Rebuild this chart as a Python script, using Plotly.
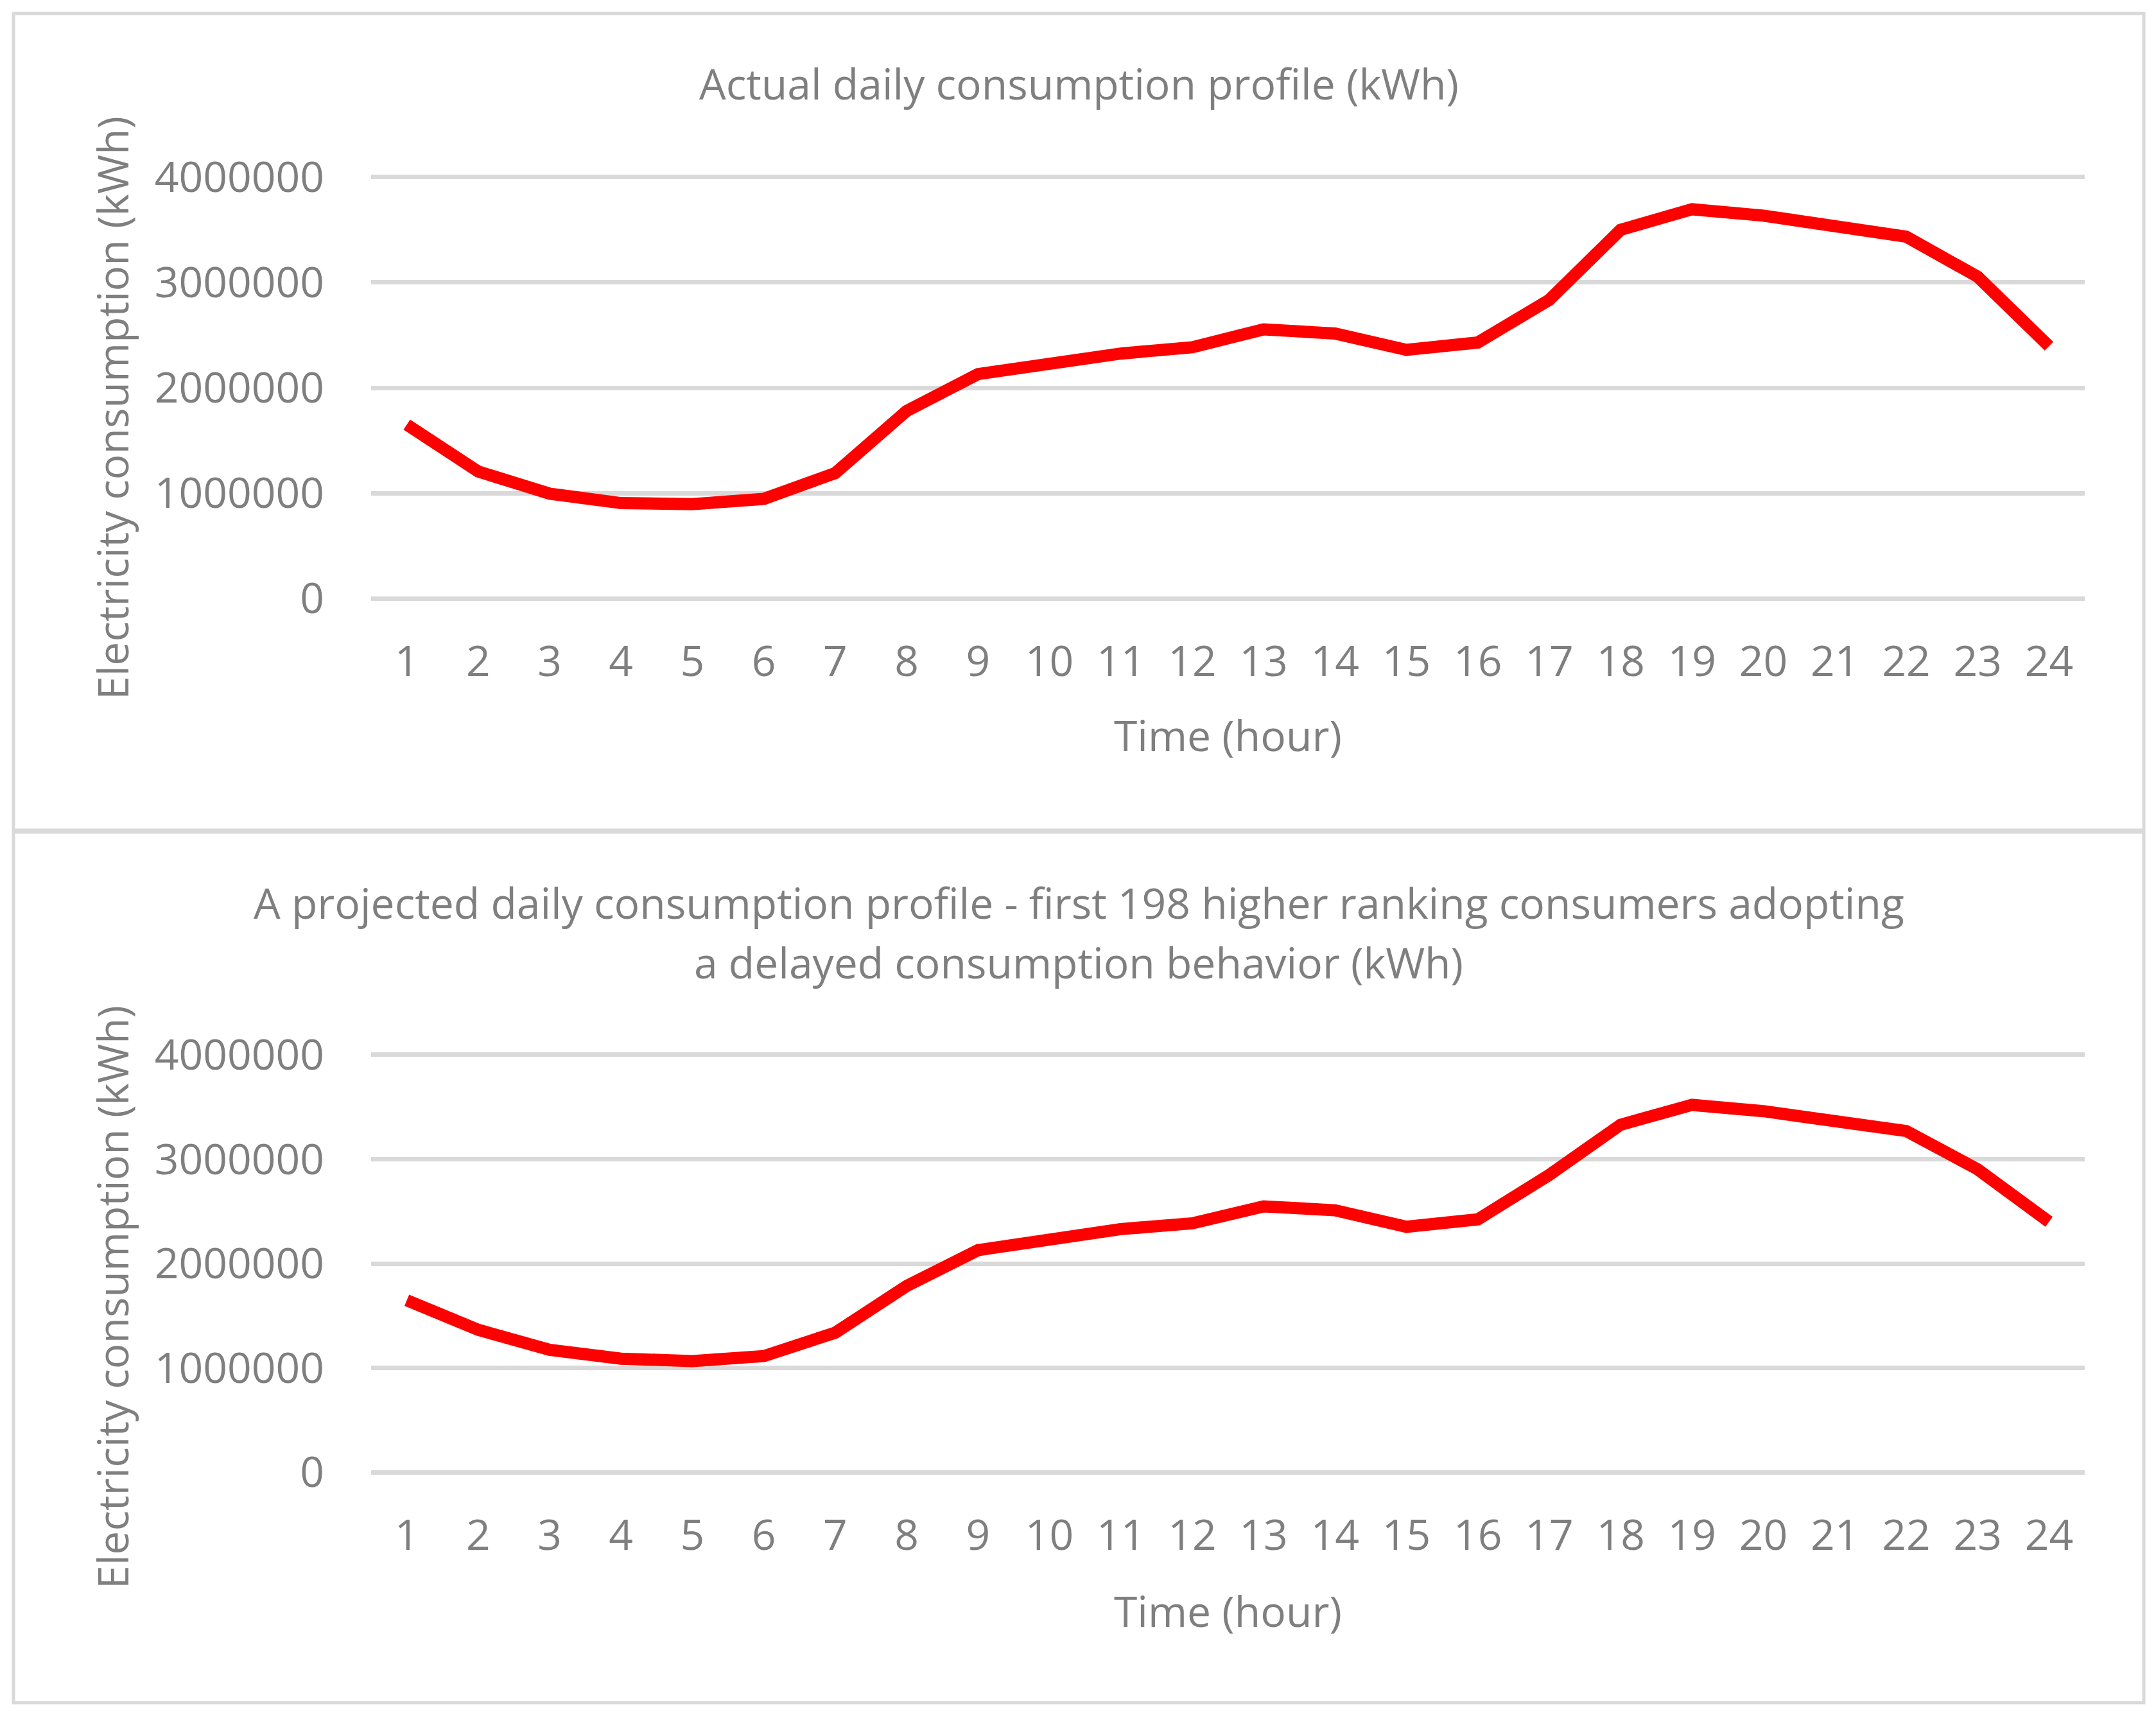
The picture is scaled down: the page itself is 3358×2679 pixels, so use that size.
import plotly.graph_objects as go

# ---------------- data ----------------
hours = list(range(1, 25))
actual = [1650000, 1205000, 995000, 905000, 895000, 945000, 1190000, 1780000,
          2130000, 2230000, 2325000, 2385000, 2555000, 2515000, 2360000, 2430000,
          2835000, 3500000, 3695000, 3635000, 3525000, 3435000, 3055000, 2395000]
projected = [1648000, 1365000, 1173000, 1088000, 1065000, 1113000, 1337000, 1784000,
             2128000, 2230000, 2330000, 2385000, 2548000, 2510000, 2352000, 2423000,
             2849000, 3330000, 3520000, 3460000, 3352000, 3270000, 2903000, 2400000]
y_ticks = [0, 1000000, 2000000, 3000000, 4000000]
y_tick_labels = ["0", "1000000", "2000000", "3000000", "4000000"]
title_top = "Actual daily consumption profile (kWh)"
title_bot_1 = "A projected daily consumption profile - first 198 higher ranking consumers adopting"
title_bot_2 = "a delayed consumption behavior (kWh)"
x_title = "Time (hour)"
y_title = "Electricity consumption (kWh)"

# ---------------- layout helpers ----------------
W, H = 3358, 2679
OFF = 8  # page body margin offset
def px(x):
    return (x - OFF) / W
def py(y):
    return 1 - (y - OFF) / H

GRAY = "#7f7f7f"
GRID = "#d9d9d9"
RED = "#ff0000"
FONT = "Open Sans"
TICK_SIZE = 66
PAD = 12000  # small range padding so edge gridlines are drawn
PAD_PX = 2

fig = go.Figure()
fig.add_trace(go.Scatter(x=hours, y=actual, mode="lines",
                         line=dict(color=RED, width=19), xaxis="x", yaxis="y",
                         showlegend=False, hoverinfo="x+y"))
fig.add_trace(go.Scatter(x=hours, y=projected, mode="lines",
                         line=dict(color=RED, width=19), xaxis="x2", yaxis="y2",
                         showlegend=False, hoverinfo="x+y"))

xdom = [px(578), px(3247)]
common_x = dict(range=[0.5, 24.5], tickmode="array", tickvals=hours,
                ticktext=[str(h) for h in hours], showgrid=False, zeroline=False,
                showline=False, ticks="", automargin=False,
                tickfont=dict(family=FONT, size=TICK_SIZE, color=GRAY),
                ticklabelstandoff=52, fixedrange=True)
common_y = dict(range=[-PAD, 4000000 + PAD], tickmode="array", tickvals=y_ticks,
                ticktext=y_tick_labels, showgrid=True, gridcolor=GRID, gridwidth=7,
                zeroline=False, showline=False, ticks="", automargin=False,
                tickfont=dict(family=FONT, size=TICK_SIZE, color=GRAY),
                ticklabelstandoff=72, fixedrange=True)

fig.update_layout(
    template="none",
    width=W, height=H,
    margin=dict(l=0, r=0, t=0, b=0, pad=0, autoexpand=False),
    paper_bgcolor="white", plot_bgcolor="white",
    showlegend=False,
    xaxis=dict(domain=xdom, anchor="y", **common_x),
    yaxis=dict(domain=[py(932 + PAD_PX), py(276 - PAD_PX)], anchor="x", **common_y),
    xaxis2=dict(domain=xdom, anchor="y2", **common_x),
    yaxis2=dict(domain=[py(2293 + PAD_PX), py(1643 - PAD_PX)], anchor="x2", **common_y),
)

# panel borders
for (y0, y1) in [(21, 1293), (1296, 2652)]:
    fig.add_shape(type="rect", xref="paper", yref="paper",
                  x0=px(21), x1=px(3339), y0=py(y1), y1=py(y0),
                  line=dict(color=GRID, width=5), fillcolor="rgba(0,0,0,0)", layer="below")

def ann(text, x, y, size=TICK_SIZE, angle=0, family=FONT):
    fig.add_annotation(text=text, x=px(x), y=py(y), xref="paper", yref="paper",
                       showarrow=False, xanchor="center", yanchor="middle",
                       textangle=angle, font=dict(family=family, size=size, color=GRAY))

ann(title_top, 1680, 129, size=66)
ann(title_bot_1, 1680, 1405, size=66)
ann(title_bot_2, 1680, 1498, size=66)
ann(x_title, 1912, 1144, size=66)
ann(x_title, 1912, 2508, size=66)
ann(y_title, 174, 636, size=66, angle=-90)
ann(y_title, 174, 2021, size=66, angle=-90)

fig.write_html("out.html")
